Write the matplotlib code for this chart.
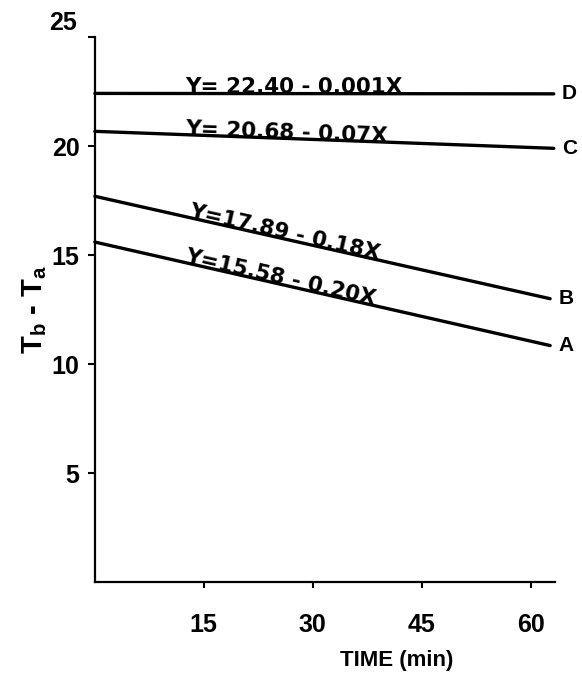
import numpy as np
import matplotlib
matplotlib.use('Agg')
import matplotlib.pyplot as plt
from matplotlib.transforms import ScaledTranslation

plt.rcParams['font.family'] = ['Liberation Sans', 'DejaVu Sans']
plt.rcParams['font.weight'] = 'bold'
plt.rcParams['mathtext.fontset'] = 'custom'
plt.rcParams['mathtext.rm'] = 'Liberation Sans:bold'
plt.rcParams['mathtext.it'] = 'Liberation Sans:bold'
plt.rcParams['mathtext.bf'] = 'Liberation Sans:bold'

# Line end points (time in min, Tb - Ta)
time_cd = [0, 63.2]
time_ab = [0, 62.7]
line_d = [22.42, 22.40]
line_c = [20.68, 19.90]
line_b = [17.70, 13.00]
line_a = [15.60, 10.85]

names = ['D', 'C', 'B', 'A']
equations = ['Y= 22.40 - 0.001X', 'Y= 20.68 - 0.07X',
             'Y=17.89 - 0.18X', 'Y=15.58 - 0.20X']
label_x = [12.5, 12.5, 12.8, 12.3]

x_ticks = [15, 30, 45, 60]
y_ticks = [5, 10, 15, 20, 25]

fig = plt.figure(figsize=(5.82, 6.76), dpi=100)
ax = fig.add_axes([0.163, 0.139, 0.791, 0.806])

series = [(time_cd, line_d), (time_cd, line_c), (time_ab, line_b), (time_ab, line_a)]
for (t, y) in series:
    ax.plot(t, y, color='black', lw=2.4, solid_capstyle='round', clip_on=False)

ax.set_xlim(0, 63.4)
ax.set_ylim(0, 25)

for s in ['top', 'right']:
    ax.spines[s].set_visible(False)
for s in ['left', 'bottom']:
    ax.spines[s].set_linewidth(1.6)

ax.set_xticks(x_ticks)
ax.set_xticklabels([str(v) for v in x_ticks], fontsize=18, fontweight='bold')
ax.set_yticks(y_ticks)
ax.set_yticklabels([str(v) for v in y_ticks], fontsize=18, fontweight='bold')
ax.tick_params(axis='x', length=4, width=1.5, pad=18)
ax.tick_params(axis='y', length=5, width=1.5, pad=6)

# the "25" label sits a bit above its tick in the original
lab25 = ax.get_yticklabels()[-1]
lab25.set_transform(lab25.get_transform() + ScaledTranslation(-2 / 72, 12 / 72, fig.dpi_scale_trans))

# end letters and equations along each line
for (t, y), name, eq, lx in zip(series, names, equations, label_x):
    ax.annotate(name, (t[-1], y[-1]), xytext=(6, 0), textcoords='offset points',
                ha='left', va='center', fontsize=15, fontweight='bold',
                annotation_clip=False)
    p0 = ax.transData.transform((t[0], y[0]))
    p1 = ax.transData.transform((t[-1], y[-1]))
    ang = np.degrees(np.arctan2(p1[1] - p0[1], p1[0] - p0[0]))
    ly = np.interp(lx, t, y)
    ax.text(lx, ly, eq, fontsize=15.5, fontweight='bold', family='DejaVu Sans',
            rotation=ang, rotation_mode='anchor', ha='left', va='baseline')

ax.set_xlabel('TIME (min)', fontsize=16, fontweight='bold')
ax.xaxis.set_label_coords(0.655, -0.125)
ax.set_ylabel(r'$\mathregular{T_b}$ - $\mathregular{T_a}$', fontsize=21, fontweight='bold')
ax.yaxis.set_label_coords(-0.1, 0.5)

fig.savefig('out.png', dpi=100)
